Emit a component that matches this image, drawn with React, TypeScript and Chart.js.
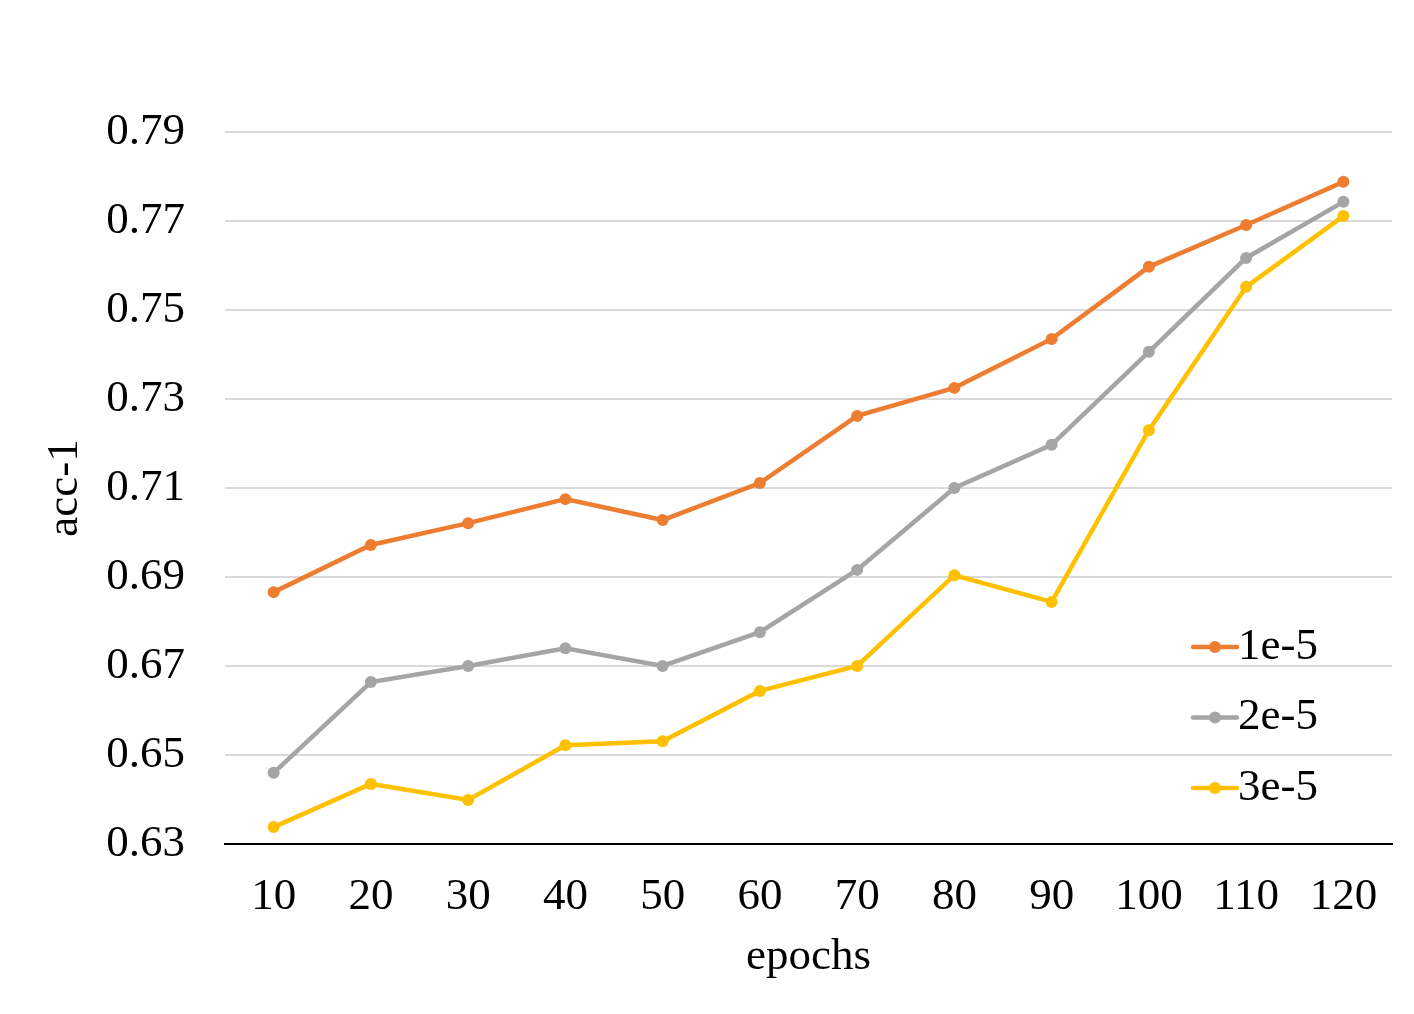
import { useEffect, useRef } from 'react';
import { Chart, registerables } from 'chart.js';

Chart.register(...registerables);

const epochs = ['10', '20', '30', '40', '50', '60', '70', '80', '90', '100', '110', '120'];
const lr1e5 = [0.6866, 0.6972, 0.7021, 0.7075, 0.7028, 0.7111, 0.7262, 0.7325, 0.7435, 0.7597, 0.7691, 0.7788];
const lr2e5 = [0.646, 0.6664, 0.67, 0.674, 0.67, 0.6776, 0.6916, 0.71, 0.7197, 0.7406, 0.7617, 0.7743];
const lr3e5 = [0.6338, 0.6435, 0.6399, 0.6522, 0.6531, 0.6644, 0.67, 0.6904, 0.6844, 0.723, 0.7552, 0.7711];
const seriesLabels = ['1e-5', '2e-5', '3e-5'];
const yMin = 0.63;
const yMax = 0.79;
const yStep = 0.02;

const FONT = "'Liberation Serif', 'Times New Roman', serif";
const colors = ['#ED7D31', '#A5A5A5', '#FFC000'];

// legend drawn inside the plot, bottom right
const insideLegend = {
  id: 'insideLegend',
  afterDraw(chart: Chart) {
    const { ctx, chartArea } = chart;
    const x0 = chartArea.right - 199;
    const y0 = chartArea.bottom - 197;
    ctx.save();
    chart.data.datasets.forEach((ds: any, i: number) => {
      const y = y0 + i * 70.5;
      ctx.strokeStyle = ds.borderColor;
      ctx.lineWidth = 4.5;
      ctx.lineCap = 'round';
      ctx.beginPath();
      ctx.moveTo(x0, y);
      ctx.lineTo(x0 + 44, y);
      ctx.stroke();
      ctx.fillStyle = ds.borderColor;
      ctx.beginPath();
      ctx.arc(x0 + 22, y, 6, 0, Math.PI * 2);
      ctx.fill();
      ctx.fillStyle = '#000';
      ctx.font = `45px ${FONT}`;
      ctx.textAlign = 'left';
      ctx.textBaseline = 'middle';
      ctx.fillText(ds.label, x0 + 45, y);
    });
    ctx.restore();
  },
};

export default function App() {
  const canvasRef = useRef<HTMLCanvasElement>(null);
  const chartRef = useRef<Chart | null>(null);

  useEffect(() => {
    if (!canvasRef.current) return;
    if (chartRef.current) chartRef.current.destroy();

    const makeSet = (label: string, data: number[], color: string) => ({
      label,
      data,
      borderColor: color,
      backgroundColor: color,
      borderWidth: 4.5,
      pointRadius: 6,
      pointBorderWidth: 0,
      pointBackgroundColor: color,
      tension: 0,
      fill: false,
    });

    chartRef.current = new Chart(canvasRef.current, {
      type: 'line',
      data: {
        labels: epochs,
        datasets: [
          makeSet(seriesLabels[0], lr1e5, colors[0]),
          makeSet(seriesLabels[1], lr2e5, colors[1]),
          makeSet(seriesLabels[2], lr3e5, colors[2]),
        ],
      },
      options: {
        responsive: true,
        maintainAspectRatio: false,
        animation: false,
        layout: { padding: { top: 132, right: 22, bottom: 0, left: 0 } },
        plugins: {
          legend: { display: false },
          tooltip: { enabled: false },
        },
        scales: {
          x: {
            offset: true,
            grid: { display: false, drawTicks: false },
            border: { display: true, color: '#000', width: 2 },
            ticks: {
              color: '#000',
              padding: 26,
              font: { family: FONT, size: 45 },
              maxRotation: 0,
            },
            title: {
              display: true,
              text: 'epochs',
              color: '#000',
              font: { family: FONT, size: 45 },
              padding: { top: 0, bottom: 30 },
            },
            afterFit(scale: any) {
              scale.height = 170;
            },
          },
          y: {
            min: yMin,
            max: yMax,
            grid: {
              color: (c: any) => (Math.abs(c.tick.value - yMin) < 1e-6 ? 'rgba(0,0,0,0)' : '#D9D9D9'),
              lineWidth: 2,
              drawTicks: false,
            },
            border: { display: false },
            ticks: {
              stepSize: yStep,
              color: '#000',
              padding: 40,
              font: { family: FONT, size: 45 },
              callback: (v: any) => Number(v).toFixed(2),
            },
            title: {
              display: true,
              text: 'acc-1',
              color: '#000',
              font: { family: FONT, size: 45 },
              padding: { top: 38, bottom: 0 },
            },
            afterFit(scale: any) {
              scale.width = 225;
            },
          },
        },
      },
      plugins: [insideLegend],
    });

    return () => {
      if (chartRef.current) {
        chartRef.current.destroy();
        chartRef.current = null;
      }
    };
  }, []);

  return (
    <div style={{ position: 'absolute', left: 0, top: 0, width: 1414, height: 1014, background: '#fff' }}>
      <canvas ref={canvasRef}></canvas>
    </div>
  );
}
